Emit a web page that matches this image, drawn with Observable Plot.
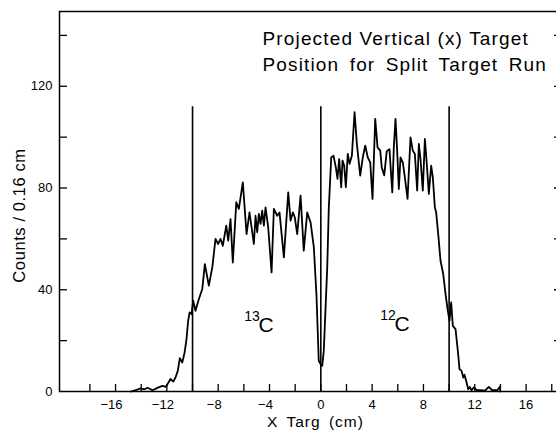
<!DOCTYPE html>
<html><head><meta charset="utf-8">
<script src="https://cdn.jsdelivr.net/npm/d3@7"></script>
<script src="https://cdn.jsdelivr.net/npm/@observablehq/plot@0.6"></script>
<style>
html,body{margin:0;padding:0;background:#fff;overflow:hidden;}
#chart{width:556px;height:431px;overflow:hidden;}
#chart svg{max-width:none !important;}
</style></head><body><div id="chart"></div>
<script>
// Projected vertical (x) target position, counts per 0.16 cm bin
const xTarg = [-14.8,-14.44,-14.05,-13.78,-13.51,-13.12,-12.65,-12.34,-12.1,-11.95,-11.72,-11.5,-11.33,-11.15,-10.99,-10.8,-10.62,-10.47,-10.34,-10.23,-10.08,-9.95,-9.77,-9.51,-9.24,-9.04,-8.73,-8.46,-8.21,-8.0,-7.82,-7.64,-7.37,-7.22,-7.04,-6.86,-6.59,-6.39,-6.08,-5.79,-5.56,-5.22,-5.09,-4.96,-4.83,-4.70,-4.57,-4.44,-4.31,-4.10,-3.84,-3.66,-3.40,-3.22,-2.88,-2.54,-2.36,-2.18,-2.03,-1.84,-1.58,-1.33,-1.06,-0.80,-0.55,-0.34,-0.16,-0.02,0.11,0.23,0.50,0.62,0.81,0.99,1.17,1.30,1.43,1.59,1.69,1.82,1.95,2.10,2.24,2.42,2.63,2.81,3.07,3.27,3.46,3.66,3.85,4.03,4.24,4.42,4.63,4.75,4.94,5.14,5.35,5.57,5.69,5.82,5.95,6.08,6.21,6.39,6.55,6.76,6.99,7.17,7.33,7.51,7.64,7.77,7.95,8.11,8.24,8.42,8.60,8.73,8.89,8.99,9.15,9.33,9.54,9.72,9.90,10.03,10.16,10.29,10.50,10.68,10.81,10.97,11.10,11.20,11.36,11.49,11.61,11.75,11.93,12.14,12.45,12.80,13.09,13.36,13.75,13.95,14.0];
const counts = [0,0.5,1.2,0.8,1.5,0.5,1.6,2.2,1.8,2.9,4.9,3.9,5.5,8.1,13.1,11.4,15.3,20.6,27.8,31.1,30.4,35.7,31.7,36.3,40.3,50.1,41.6,48.8,60,58,60,57.3,65.2,59.3,67.8,50.7,74.4,71.8,82.2,61.9,70.4,58,69.1,62.6,69.8,65.9,71.1,65.2,72.4,64.5,46.8,71.8,69.1,70.4,52.7,78.3,67.2,70.4,68.5,61.9,77,55.4,70.4,66.5,57,38,12.1,10.8,10.1,16,48.8,72,92,92.7,88.1,83.6,91.4,80.3,90.8,88.8,80.3,93.4,89.5,92.7,109.8,97.3,84.9,92,96.7,92,90.1,75.7,107.2,96,94.7,88.1,85,94.5,95.3,78.3,96,107.2,94.7,79.6,92,90.1,84.2,75.7,99.9,94.7,93.4,79,97.3,91.4,79,99.3,90.8,77.7,88.8,84.2,72.4,70.4,61.9,51.4,46.2,38.3,31.7,27.8,35,25.8,24.5,16,8.8,8.1,5.5,6.6,3.5,0.9,1.8,0.5,1.6,0.5,0.5,0.3,1.8,0.5,0.5,1.8,0];
const dividers = [-10, 0, 10];
const dividerTop = 112;
const xTicks = d3.range(-18, 19, 2);
const xLabelsNeg = [-16, -12, -8, -4];
const xLabelsPos = [0, 4, 8, 12, 16];
const yTicks = [20, 40, 60, 80, 100, 120, 140];
const yLabels = [0, 40, 80, 120];
const titleLines = ["Projected Vertical (x) Target", "Position for Split Target Run"];
const xLabel = "X Targ (cm)";
const yLabel = "Counts / 0.16 cm";
const isotopes = [{mass: "13", el: "C", x: -4.27, y: 26}, {mass: "12", el: "C", x: 6.33, y: 26.4}];

const data = xTarg.map((x, i) => ({x, y: counts[i]}));
const font = "'Liberation Sans', Arial, sans-serif";

const chart = Plot.plot({
  width: 562, height: 431,
  marginLeft: 59, marginRight: 1, marginTop: 11, marginBottom: 40,
  style: {fontFamily: font, background: "white", color: "black", maxWidth: "none"},
  x: {domain: [-20.37, 18.76]},
  y: {domain: [0, 149.4]},
  marks: [
    Plot.axisX(xTicks, {anchor: "bottom", tickSize: -7, strokeWidth: 1.3, tickFormat: () => "", label: null}),
    Plot.axisX(xLabelsNeg, {anchor: "bottom", tickSize: 0, tickPadding: 8, dx: -4, fontSize: 13, label: null}),
    Plot.axisX(xLabelsPos, {anchor: "bottom", tickSize: 0, tickPadding: 8, fontSize: 13, label: null}),
    Plot.axisY(yTicks, {anchor: "left", tickSize: -8, strokeWidth: 1.3, tickFormat: () => "", label: null}),
    Plot.axisY(yTicks, {anchor: "right", tickSize: -8, strokeWidth: 1.3, tickFormat: () => "", label: null}),
    Plot.axisY(yLabels, {anchor: "left", tickSize: 0, tickPadding: 7, fontSize: 13, label: null}),
    Plot.frame({stroke: "black", strokeWidth: 1.5}),
    Plot.ruleX(dividers, {y1: 0, y2: dividerTop, stroke: "black", strokeWidth: 1.6}),
    Plot.line(data, {x: "x", y: "y", stroke: "black", strokeWidth: 1.8, strokeLinejoin: "round"}),
    Plot.text(isotopes, {x: "x", y: "y", text: "el", fontSize: 21}),
    Plot.text(isotopes, {x: "x", y: "y", text: "mass", fontSize: 14, dx: -14, dy: -9}),
    Plot.text([titleLines[0]], {frameAnchor: "top-left", textAnchor: "start", lineAnchor: "bottom", dx: 203, dy: 33, fontSize: 19}),
    Plot.text([titleLines[1]], {frameAnchor: "top-left", textAnchor: "start", lineAnchor: "bottom", dx: 203, dy: 59, fontSize: 19}),
    Plot.text([xLabel], {frameAnchor: "bottom", textAnchor: "middle", lineAnchor: "top", dx: 5, dy: 24.5, fontSize: 15.5}),
    Plot.text([yLabel], {frameAnchor: "left", textAnchor: "middle", lineAnchor: "middle", rotate: -90, dx: -40, dy: 14, fontSize: 16.5})
  ]
});
document.getElementById("chart").appendChild(chart);
const svg = d3.select(chart);
svg.selectAll("text").filter(function () { return this.textContent === titleLines[0]; }).attr("letter-spacing", "1.15px");
svg.selectAll("text").filter(function () { return this.textContent === titleLines[1]; }).attr("letter-spacing", "1.15px").attr("word-spacing", "4px");
svg.selectAll("text").filter(function () { return this.textContent === xLabel; }).attr("letter-spacing", "1px").attr("word-spacing", "3px");
svg.selectAll("text").filter(function () { return this.textContent === yLabel; }).attr("letter-spacing", "0.6px");
</script></body></html>
